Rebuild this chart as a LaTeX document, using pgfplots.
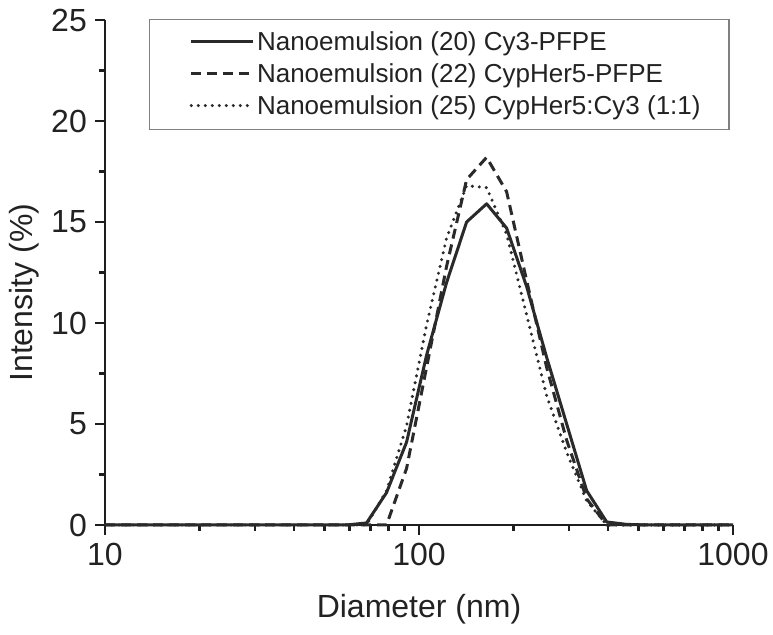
\documentclass[border=0pt]{standalone}
\usepackage{pgfplots}
\pgfplotsset{compat=1.18}
\usepackage{fontspec}
\setmainfont{Liberation Sans}
\definecolor{ln}{HTML}{2A2A2A}
\definecolor{ax}{HTML}{1E1E1E}
\definecolor{txt}{HTML}{222222}
\newcommand{\lt}[1]{\makebox[472pt][l]{#1}}
\begin{document}
\begin{tikzpicture}
\begin{semilogxaxis}[
  name=ax,
  scale only axis, width=628pt, height=505pt,
  xmin=10, xmax=1000, ymin=0, ymax=25,
  axis lines=left, axis line style={-, ax, line width=2.6pt},
  clip=false,
  xtick={10,100,1000}, xticklabels={10,100,1000},
  minor xtick={20,30,40,50,60,70,80,90,200,300,400,500,600,700,800,900},
  ytick={0,5,10,15,20,25},
  minor ytick={2.5,7.5,12.5,17.5,22.5},
  tick align=outside,
  major tick length=10pt, minor tick length=6pt,
  every tick/.style={ax, line width=2.4pt},
  /pgf/number format/assume math mode=true,
  tick label style={font=\fontsize{32}{36}\selectfont, text=txt},
  yticklabel style={inner sep=0pt, xshift=-8pt},
  xticklabel style={inner sep=0pt, yshift=-8pt},
  xlabel={Diameter (nm)}, ylabel={Intensity (\%)},
  label style={font=\fontsize{32}{36}\selectfont, text=txt},
  xlabel style={at={(axis description cs:0.5,-0.184)}, anchor=base},
  ylabel style={at={(axis description cs:-0.1162,0.46)}, anchor=base},
  legend style={at={(0.0701,1.002)}, anchor=north west,
    draw=black!50, line width=1.2pt,
    font=\fontsize{26}{30}\selectfont, text=txt,
    inner xsep=0pt, inner ysep=10pt, row sep=6pt,
    nodes={inner sep=0pt, text height=21pt, text depth=5pt}},
  legend cell align=left,
  legend image code/.code={\path (-40pt,1pt); \draw[#1] (0pt,1pt) -- (62pt,1pt); \path (64pt,1pt);},
]
\addplot[ln, line width=3pt, line join=round] table {
10 0
58.77 0
68.06 0.1
78.82 1.6
91.28 4.1
105.7 8.4
122.4 12.0
141.8 15.0
164.2 15.9
190.1 14.7
220.2 11.8
255.0 8.3
295.3 5.0
342.0 1.7
396.1 0.15
458.7 0.03
531.2 0
1000 0
};
\addlegendentry{\lt{Nanoemulsion (20) Cy3-PFPE}}
\addplot[ln, line width=3pt, dash pattern=on 10pt off 6pt] table {
10 0
78.82 0
91.28 2.8
105.7 7.8
122.4 12.8
141.8 17.1
164.2 18.2
190.1 16.5
220.2 12.1
255.0 7.8
295.3 4.2
342.0 1.3
396.1 0
1000 0
};
\addlegendentry{\lt{Nanoemulsion (22) CypHer5-PFPE}}
\addplot[ln, line width=3.4pt, line cap=round, dash pattern=on 0pt off 7pt] table {
10 0
68.06 0
78.82 1.7
91.28 4.9
105.7 9.9
122.4 14.2
141.8 16.8
164.2 16.7
190.1 14.4
220.2 10.4
255.0 6.4
295.3 3.6
342.0 1.2
396.1 0
1000 0
};
\addlegendentry{\lt{Nanoemulsion (25) CypHer5:Cy3 (1:1)}}
\end{semilogxaxis}
\pgfresetboundingbox
\path[use as bounding box] ([xshift=-105pt,yshift=-110pt]ax.south west) rectangle ([xshift=40pt,yshift=20pt]ax.north east);
\end{tikzpicture}
\end{document}
